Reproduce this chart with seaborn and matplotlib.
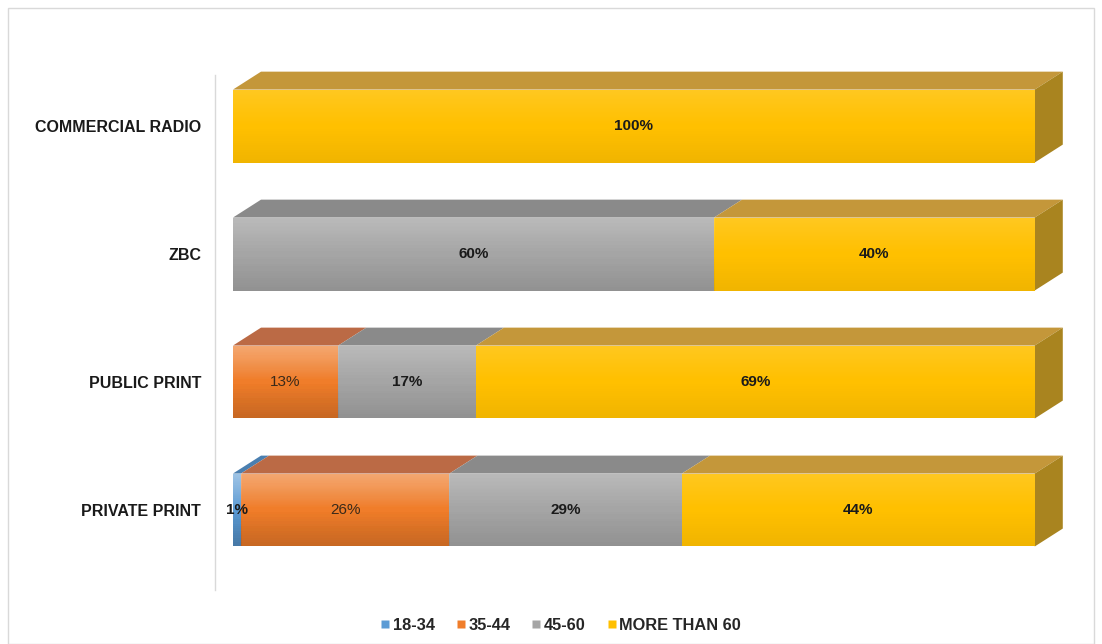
import numpy as np
import pandas as pd
import seaborn as sns
import matplotlib.pyplot as plt
from matplotlib.patches import Polygon, Rectangle
from matplotlib.lines import Line2D

sns.set_theme(style="white")
plt.rcParams['font.family'] = ['Liberation Sans', 'DejaVu Sans']

categories = ["COMMERCIAL RADIO", "ZBC", "PUBLIC PRINT", "PRIVATE PRINT"]
series = ["18-34", "35-44", "45-60", "MORE THAN 60"]
v_18_34 = [0, 0, 0, 1]
v_35_44 = [0, 0, 13, 26]
v_45_60 = [0, 60, 17, 29]
v_60plus = [100, 40, 69, 44]

front_colors = ["#5B9BD5", "#F07D2A", "#A5A5A5", "#FFC000"]
top_colors = ["#4A7FB0", "#BB6A45", "#8A8A8A", "#C4973A"]
side_colors = ["#3F6E99", "#A85A30", "#7A7A7A", "#A9841F"]

vals = np.array([v_18_34, v_35_44, v_45_60, v_60plus], dtype=float)
totals = vals.sum(axis=0)
pct = vals / totals * 100
cum = np.cumsum(pct, axis=0)
starts = cum - pct

df = pd.DataFrame({"category": categories})
for i, s in enumerate(series):
    df[s] = cum[i]

fig = plt.figure(figsize=(11.02, 6.44), dpi=100)
ax = fig.add_axes([215 / 1102, (644 - 590) / 644, 855 / 1102, 530 / 644])

bar_w = 0.57
for i in reversed(range(len(series))):
    sns.barplot(data=df, x=series[i], y="category", orient="h", color=front_colors[i],
                width=bar_w, saturation=1, ax=ax, zorder=3, linewidth=0, edgecolor="none")

# subtle vertical gradient overlay for the front faces
n = 64
t = np.linspace(0, 1, n)
grad = np.zeros((n, 2, 4))
white = t < 0.5
grad[white, :, :3] = 1.0
alpha = np.where(white, 0.13 * (1 - t / 0.5), 0.06 * (t - 0.5) / 0.5)
grad[..., 3] = alpha[:, None]
for p in list(ax.patches):
    if p.get_width() <= 0:
        continue
    x0, y0 = p.get_x(), p.get_y()
    w, h = p.get_width(), p.get_height()
    im = ax.imshow(grad, extent=(x0, x0 + w, y0 + h, y0), aspect="auto", zorder=3.5,
                   interpolation="bilinear")
    im.set_clip_path(p)

dx, dy = 3.5, 0.14
for j in range(len(categories)):
    top = j - bar_w / 2
    bot = j + bar_w / 2
    last = None
    for i in range(len(series)):
        if pct[i, j] <= 0:
            continue
        x0, x1 = starts[i, j], cum[i, j]
        ax.add_patch(Polygon([(x0, top), (x1, top), (x1 + dx, top - dy), (x0 + dx, top - dy)],
                             closed=True, facecolor=top_colors[i], edgecolor="none", zorder=2))
        last = i
    xe = cum[last, j]
    ax.add_patch(Polygon([(xe, top), (xe + dx, top - dy), (xe + dx, bot - dy), (xe, bot)],
                         closed=True, facecolor=side_colors[last], edgecolor="none", zorder=2))
    for i in range(len(series)):
        if pct[i, j] <= 0:
            continue
        xc = (starts[i, j] + cum[i, j]) / 2
        weight = "normal" if i == 1 else "bold"
        color = "#3A2A1A" if i == 1 else "#1A1A1A"
        ax.text(xc, j, f"{int(vals[i, j])}%", ha="center", va="center", fontsize=11,
                fontweight=weight, color=color, zorder=5)

ax.set_xlim(-2.24, 104.4)
ax.set_ylim(3.625, -0.516)
ax.set_xlabel("")
ax.set_ylabel("")
ax.set_xticks([])
ax.set_yticks(range(len(categories)))
ax.set_yticklabels(categories, fontsize=11.5, fontweight="bold", color="#1A1A1A")
ax.tick_params(axis="y", length=0, pad=10)
for s in ["top", "right", "bottom"]:
    ax.spines[s].set_visible(False)
ax.spines["left"].set_color("#D9D9D9")
ax.spines["left"].set_linewidth(1.0)
ax.spines["left"].set_bounds(3.625, -0.40)

handles = [Line2D([], [], marker="s", linestyle="none", markersize=6,
                  markerfacecolor=c, markeredgecolor="none") for c in front_colors]
fig.legend(handles, series, loc="center", bbox_to_anchor=(0.508, (644 - 625) / 644), ncol=4,
           frameon=False, prop={"weight": "bold", "size": 11.8}, handletextpad=0.05,
           columnspacing=1.2, handlelength=0.8)

fig.patches.append(Rectangle((8 / 1102, 0), 1086 / 1102, 636 / 644, transform=fig.transFigure,
                             fill=False, edgecolor="#D9D9D9", linewidth=1))

fig.savefig("out.png", dpi=100)
